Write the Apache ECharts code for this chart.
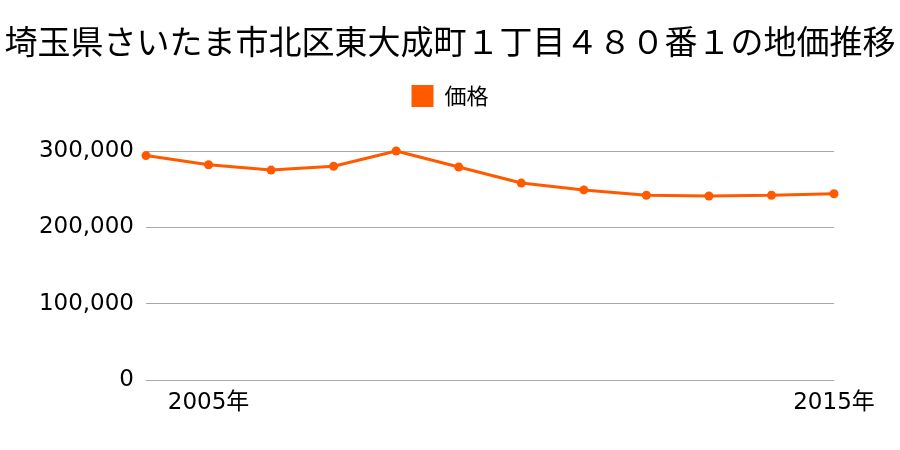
<!DOCTYPE html>
<html><head><meta charset="utf-8">
<script src="https://cdn.jsdelivr.net/npm/echarts@6/dist/echarts.min.js"></script>
<style>html,body{margin:0;padding:0;background:#fff}#c{width:900px;height:450px}</style>
</head><body><div id="c"></div>
<script>
const titleText = '埼玉県さいたま市北区東大成町１丁目４８０番１の地価推移';
const seriesName = '価格';
const years = ['2004年','2005年','2006年','2007年','2008年','2009年','2010年','2011年','2012年','2013年','2014年','2015年'];
const prices = [294000,282000,275000,280000,300000,279000,258000,249000,242000,241000,242000,244000];
const shownLabels = ['2005年','2015年'];

const chart = echarts.init(document.getElementById('c'));
const font = '"Noto Sans CJK JP", "Noto Sans", sans-serif';
const numFont = '"DejaVu Sans", "Noto Sans CJK JP", sans-serif';
chart.setOption({
  animation:false,
  title:{text:titleText,left:'center',top:20,textStyle:{fontFamily:font,fontSize:33,fontWeight:'normal',color:'#000'}},
  legend:{data:[seriesName],top:80,left:'center',icon:'rect',itemWidth:22,itemHeight:22,itemGap:8,
    textStyle:{fontFamily:font,fontSize:22,color:'#000',padding:[0,0,0,6]}},
  grid:{left:146,right:66,top:151,bottom:70,containLabel:false},
  xAxis:{type:'category',data:years,boundaryGap:false,
    axisLine:{show:true,lineStyle:{color:'#aaa'}},axisTick:{show:false},
    axisLabel:{interval:(i,v)=>shownLabels.includes(v),fontFamily:numFont,fontSize:23,color:'#000',margin:12}},
  yAxis:{type:'value',min:0,max:300000,interval:100000,
    axisLine:{show:false},axisTick:{show:false},
    splitLine:{lineStyle:{color:'#aaa'}},
    axisLabel:{fontFamily:numFont,fontSize:23,color:'#000',margin:12,padding:[7,0,0,0],
      formatter:v=>v.toLocaleString('en-US')}},
  series:[{name:seriesName,type:'line',data:prices,color:'#ff5a00',
    symbol:'circle',symbolSize:9,lineStyle:{width:3,color:'#ff5a00'},itemStyle:{color:'#ff5a00'}}]
});
</script></body></html>
